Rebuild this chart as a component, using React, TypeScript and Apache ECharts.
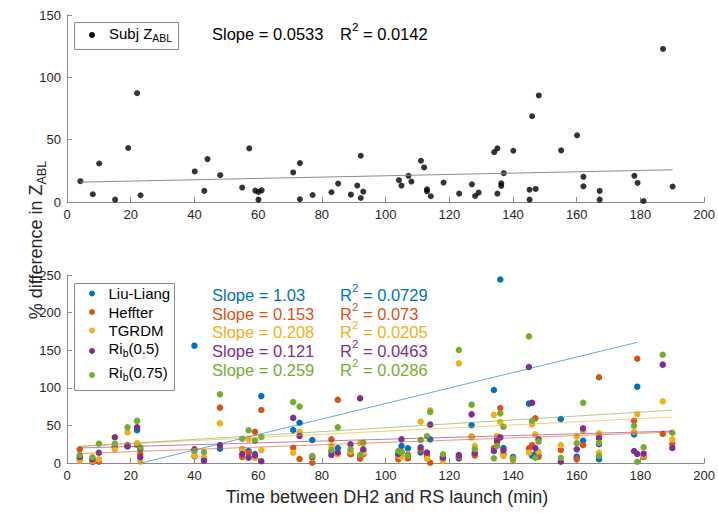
import React, { useEffect, useRef } from 'react';
import * as echarts from 'echarts';

const FONT = '"Liberation Sans", Arial, Helvetica, sans-serif';
const COLORS = ['#0072BD', '#D95319', '#EDB120', '#7E2F8E', '#77AC30'];
const AXIS_COLOR = '#8a8a8a';
const TEXT_COLOR = '#262626';

// ---- Top panel: Subj Z_ABL ----
const topX = [4.2, 8.1, 10.1, 15.1, 19.2, 22, 23.1, 40.1, 43.1, 44.1, 48.1, 55, 57.2, 59.1, 60.1, 60.1, 61.1, 71, 73.1, 73.1, 77.1, 83, 85.1, 89.1, 91.1, 92.2, 92.2, 93, 104.2, 105, 107.2, 108.1, 111.1, 112.1, 113, 113, 114.2, 118.2, 123.1, 127.1, 128.1, 129.2, 134.1, 135.1, 135.1, 136.3, 136.3, 137.1, 140.1, 145.2, 145.2, 146, 147.1, 148.1, 155.1, 160.1, 162.1, 162.1, 167.2, 167.2, 178.1, 179.1, 181, 187.1, 190.1];
const topY = [16.7, 6.2, 30.9, 1.9, 43.3, 87.3, 5.4, 24.5, 8.9, 34.4, 21.5, 11.6, 43, 9.1, 8.1, 1.9, 9.4, 23.7, 31.2, 2.2, 5.6, 7.8, 14.8, 5.9, 13.2, 37.1, 3.2, 8.3, 17.5, 13.2, 21, 16.4, 33.1, 27.7, 10.2, 8.6, 4.6, 15.6, 6.7, 14.2, 4.8, 7.5, 40, 43, 6.7, 15, 12.9, 23.1, 41.1, 9.9, 1.9, 68.8, 10.5, 85.5, 41.4, 53.5, 20.2, 12.6, 8.9, 1.9, 21, 15.3, 0.8, 122.8, 12.4];
const topSlope = 0.0533;
const topIntercept = 15.7;
const topSlopeLabel = '0.0533';
const topR2Label = '0.0142';

// ---- Bottom panel: five methods ----
const bottomX = [4, 8, 10, 15, 19, 22, 23, 40, 43, 48, 55, 57, 59, 61, 71, 73, 77, 83, 85, 89, 92, 93, 104, 105, 107, 111, 113, 114, 118, 123, 127, 128, 134, 135, 136, 137, 140, 145, 146, 147, 148, 155, 160, 162, 167, 167, 178, 179, 181, 187, 190];
const liuLiang = [5, 3, 4, 22, 22, 43.5, 18.2, 156, 6, 19, 18.2, 16, 12, 89, 43.9, 53.6, 30.6, 15, 20, 12, 9, 16, 9, 22.6, 19.5, 14, 10, 31.5, 8, 6, 50.3, 12, 97, 32.8, 244, 20, 8, 79, 9.7, 12, 10, 58.5, 8.4, 29.7, 9, 5, 38.1, 101.5, null, null, null];
const heffter = [18.2, 1.5, 1.8, 21, 24, 24, 12, 8.9, 5, 73.6, 8, 13.7, 41.6, 70.5, 20.3, 5.3, 0.4, 31.5, 84, 11.6, 5.8, 11.6, 4.9, 15, 6, 17.3, 9.3, 0.4, 5, 8, 35, 10, 20, 28, 73, 12, 4, 19.5, 24, 59.4, 8, 17.3, 4.9, 24, 114, 36, 56.3, 138.7, 8, 38.6, 25.3];
const tgrdm = [3.5, 3, 5, 18.2, 40.8, 26.6, 1.8, 10, 8, 52.8, 18.5, 31.5, 6.7, 16.9, 13.7, 41.6, 6.7, 22.6, 11.6, 15, 26.6, 14, 10, 8, 12, 55, 5.7, 70, 3.1, 132.5, 34, 23, 64, 36, 54.5, 9.3, 5, 13.7, 51.4, 38.1, 15, 24, 35, 43, 39.5, 13.7, 41.6, 64.8, 10, 82, 31.5];
const rib05 = [8, 4.9, 13.7, 34.2, 23, 47.4, 7.6, 18.2, 3.1, 24, 12, 7.1, 10, 2.3, 60, 36, 8, 10.6, 14, 24.9, 86, 18.2, 12, 31.5, 10, 21, 14, 51, 7, 10.6, 64.7, 13.7, 16, 30, 34, 17, 7.5, 127.7, 80, 20, 31.5, 1.7, 18.2, 46, 32.8, 25, 16, 12, 12.4, 130.8, 20];
const rib075 = [10.6, 7.6, 25.7, 25.7, 47.4, 56, 20.9, 16, 14.6, 91.3, 32.3, 43.5, 29.7, 34.6, 81, 75, 9.3, 17.3, 47.5, 18.2, 10.6, 27, 16, 14, 9.3, 30.6, 35.9, 68, 11.6, 150.3, 77.6, 18.5, 6.2, 22.6, 66, 48.3, 6.2, 168.4, 56, 7, 28.4, 7, 26.2, 80, 27, 9.3, 49.6, 1.7, 20.9, 144, 40.3];
const seriesValues = [liuLiang, heffter, tgrdm, rib05, rib075];
const slopes = [1.03, 0.153, 0.208, 0.121, 0.259];
const intercepts = [-23.9, 12, 21.5, 19.5, 21];
const slopeLabels = ['1.03', '0.153', '0.208', '0.121', '0.259'];
const r2Labels = ['0.0729', '0.073', '0.0205', '0.0463', '0.0286'];

type Part = [string, '' | 'sub' | 'sup'];
const legendParts: Part[][] = [
  [['Liu-Liang', '']],
  [['Heffter', '']],
  [['TGRDM', '']],
  [['Ri', ''], ['b', 'sub'], ['(0.5)', '']],
  [['Ri', ''], ['b', 'sub'], ['(0.75)', '']],
];

let measureCtx: CanvasRenderingContext2D | null = null;
function textW(t: string, size: number): number {
  if (!measureCtx) measureCtx = document.createElement('canvas').getContext('2d');
  if (!measureCtx) return t.length * size * 0.55;
  measureCtx.font = `${size}px ${FONT}`;
  return measureCtx.measureText(t).width;
}
function partSize(k: string, size: number) {
  return k ? size * 0.7 : size;
}
function partsWidth(parts: Part[], size: number) {
  return parts.reduce((s, [t, k]) => s + textW(t, partSize(k, size)), 0);
}
function compose(parts: Part[], x0: number, y: number, size: number, color: string, z = 100): any[] {
  let x = x0;
  const out: any[] = [];
  for (const [t, k] of parts) {
    const s = partSize(k, size);
    const dy = k === 'sub' ? size * 0.33 : k === 'sup' ? -size * 0.4 : 0;
    out.push({
      type: 'text',
      x,
      y: y + dy,
      z,
      style: { text: t, fontSize: s, fontFamily: FONT, fill: color, align: 'left', verticalAlign: 'middle' },
    });
    x += textW(t, s);
  }
  return out;
}

function makeAxisX(gridIndex: number) {
  return {
    type: 'value',
    gridIndex,
    min: 0,
    max: 200,
    interval: 20,
    axisLine: { show: true, onZero: false, lineStyle: { color: AXIS_COLOR, width: 1 } },
    axisTick: { show: true, inside: true, length: 5, lineStyle: { color: AXIS_COLOR } },
    axisLabel: { color: TEXT_COLOR, fontSize: 13, fontFamily: FONT, margin: 6 },
    splitLine: { show: false },
  };
}
function makeAxisY(gridIndex: number, max: number) {
  return {
    type: 'value',
    gridIndex,
    min: 0,
    max,
    interval: 50,
    axisLine: { show: true, onZero: false, lineStyle: { color: AXIS_COLOR, width: 1 } },
    axisTick: { show: true, inside: true, length: 5, lineStyle: { color: AXIS_COLOR } },
    axisLabel: { color: TEXT_COLOR, fontSize: 13, fontFamily: FONT, margin: 6 },
    splitLine: { show: false },
  };
}

export default function App() {
  const ref = useRef<HTMLDivElement>(null);
  useEffect(() => {
    if (!ref.current) return;
    const chart = echarts.init(ref.current, undefined, { renderer: 'svg' });

    const series: any[] = [];
    series.push({
      type: 'scatter',
      xAxisIndex: 0,
      yAxisIndex: 0,
      symbolSize: 6,
      itemStyle: { color: '#000' },
      data: topX.map((x, i) => [x, topY[i]]),
    });
    const tMin = Math.min(...topX);
    const tMax = Math.max(...topX);
    series.push({
      type: 'line',
      xAxisIndex: 0,
      yAxisIndex: 0,
      symbol: 'none',
      lineStyle: { color: '#8c8c8c', width: 1 },
      data: [
        [tMin, topIntercept + topSlope * tMin],
        [tMax, topIntercept + topSlope * tMax],
      ],
      z: 3,
    });

    seriesValues.forEach((vals, si) => {
      const pts = bottomX.map((x, i) => [x, vals[i]]).filter((p) => p[1] !== null);
      series.push({
        type: 'scatter',
        xAxisIndex: 1,
        yAxisIndex: 1,
        symbolSize: 6.5,
        itemStyle: { color: COLORS[si], opacity: 1 },
        data: pts,
        z: 2 + si * 0.01,
      });
    });
    seriesValues.forEach((vals, si) => {
      const xs = bottomX.filter((_, i) => vals[i] !== null);
      const x0 = Math.min(...xs);
      const x1 = Math.max(...xs);
      series.push({
        type: 'line',
        xAxisIndex: 1,
        yAxisIndex: 1,
        symbol: 'none',
        clip: true,
        lineStyle: { color: COLORS[si], width: 1, opacity: 0.6 },
        data: [
          [x0, intercepts[si] + slopes[si] * x0],
          [x1, intercepts[si] + slopes[si] * x1],
        ],
        z: 3,
      });
    });

    const graphics: any[] = [];
    // top legend
    graphics.push({
      type: 'rect',
      z: 99,
      shape: { x: 74.5, y: 22.5, width: 104, height: 27 },
      style: { fill: '#fff', stroke: AXIS_COLOR, lineWidth: 1 },
    });
    graphics.push({ type: 'circle', z: 100, shape: { cx: 92, cy: 35, r: 3 }, style: { fill: '#000' } });
    graphics.push(...compose([['Subj Z', ''], ['ABL', 'sub']], 109, 33.5, 15, '#000'));
    // top annotation
    graphics.push(...compose([['Slope = ' + topSlopeLabel, '']], 212, 33.5, 16.5, '#000'));
    graphics.push(...compose([['R', ''], ['2', 'sup'], [' = ' + topR2Label, '']], 340, 33.5, 16.5, '#000'));

    // bottom legend
    graphics.push({
      type: 'rect',
      z: 99,
      shape: { x: 74.5, y: 283.5, width: 100, height: 107 },
      style: { fill: '#fff', stroke: AXIS_COLOR, lineWidth: 1 },
    });
    const legendDotY = [293.5, 312, 330.5, 351, 375];
    const legendTextDy = [0, 0, 0, -2.5, -2.5];
    legendParts.forEach((parts, i) => {
      graphics.push({ type: 'circle', z: 100, shape: { cx: 92, cy: legendDotY[i], r: 3 }, style: { fill: COLORS[i] } });
      graphics.push(...compose(parts, 108.5, legendDotY[i] + legendTextDy[i], 15, '#000'));
    });
    // bottom slope annotations
    const rowY = [295, 313.5, 332, 351, 370];
    slopeLabels.forEach((s, i) => {
      graphics.push(...compose([['Slope = ' + s, '']], 212, rowY[i], 16.5, COLORS[i]));
      graphics.push(...compose([['R', ''], ['2', 'sup'], [' = ' + r2Labels[i], '']], 340, rowY[i], 16.5, COLORS[i]));
    });

    // y axis label (rotated)
    const yParts: Part[] = [['% difference in Z', ''], ['ABL', 'sub']];
    const yw = partsWidth(yParts, 18);
    graphics.push({
      type: 'group',
      x: 36,
      y: 240,
      rotation: Math.PI / 2,
      z: 100,
      children: compose(yParts, -yw / 2, 0, 18, TEXT_COLOR),
    });
    // x axis label
    const xParts: Part[] = [['Time between DH2 and RS launch (min)', '']];
    const xw = partsWidth(xParts, 18);
    graphics.push(...compose(xParts, 387 - xw / 2, 497, 18, TEXT_COLOR));

    chart.setOption({
      animation: false,
      backgroundColor: '#fff',
      grid: [
        { left: 67, top: 15, width: 640, height: 187, containLabel: false },
        { left: 67, top: 275, width: 640, height: 188, containLabel: false },
      ],
      xAxis: [makeAxisX(0), makeAxisX(1)],
      yAxis: [makeAxisY(0, 150), makeAxisY(1, 250)],
      series,
      graphic: graphics,
    });
    return () => chart.dispose();
  }, []);
  return <div ref={ref} style={{ position: 'fixed', left: 0, top: 0, width: 718, height: 513 }} />;
}
